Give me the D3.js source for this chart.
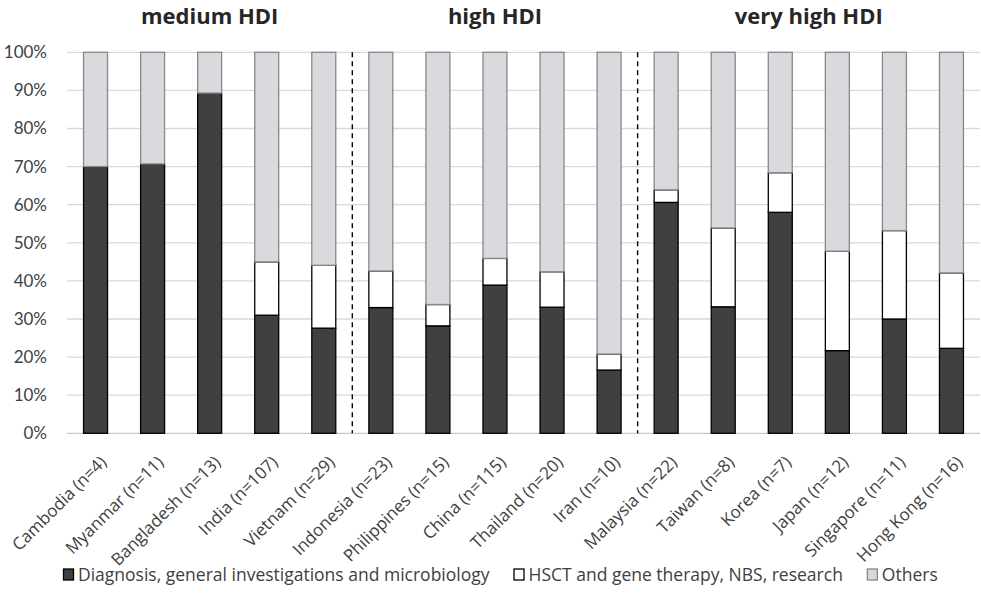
<!DOCTYPE html>
<html>
<head>
<meta charset="utf-8">
<script src="https://cdn.jsdelivr.net/npm/d3@7"></script>
<style>
  body { margin: 0; background: #fff; }
  svg { font-family: "Open Sans", Lato, sans-serif; }
</style>
</head>
<body>
<script>
// countries, left to right
const countries = ["Cambodia (n=4)", "Myanmar (n=11)", "Bangladesh (n=13)", "India (n=107)", "Vietnam (n=29)",
  "Indonesia (n=23)", "Philippines (n=15)", "China (n=115)", "Thailand (n=20)", "Iran (n=10)",
  "Malaysia (n=22)", "Taiwan (n=8)", "Korea (n=7)", "Japan (n=12)", "Singapore (n=11)", "Hong Kong (n=16)"];

// percent of each country's total
const diagnosis = [70.0, 70.7, 89.3, 31.0, 27.6, 33.0, 28.2, 38.9, 33.1, 16.6, 60.6, 33.2, 58.0, 21.7, 30.0, 22.3];
const hsct = [0, 0, 0, 14.0, 16.5, 9.6, 5.6, 7.0, 9.3, 4.2, 3.3, 20.7, 10.4, 26.1, 23.2, 19.8];
const others = diagnosis.map((d, i) => 100 - d - hsct[i]);

const seriesNames = ["Diagnosis, general investigations and microbiology", "HSCT and gene therapy, NBS, research", "Others"];

// HDI groups: first and last country of each
const groups = [
  { name: "medium HDI", from: "Cambodia (n=4)", to: "Vietnam (n=29)" },
  { name: "high HDI", from: "Indonesia (n=23)", to: "Iran (n=10)" },
  { name: "very high HDI", from: "Malaysia (n=22)", to: "Hong Kong (n=16)" }
];

const yTicks = [0, 10, 20, 30, 40, 50, 60, 70, 80, 90, 100];

const width = 981, height = 593;
const margin = { top: 52, right: 1, bottom: 160, left: 67 };

const svg = d3.select("body").append("svg")
  .attr("width", width)
  .attr("height", height);

const x = d3.scaleBand()
  .domain(countries)
  .range([margin.left, width - margin.right])
  .paddingInner(0.58)
  .paddingOuter(0.29);

const y = d3.scaleLinear()
  .domain([0, 100])
  .range([height - margin.bottom + 0.3, margin.top + 0.3]);

// gridlines
svg.append("g")
  .selectAll("line")
  .data(yTicks)
  .join("line")
  .attr("x1", margin.left)
  .attr("x2", width - margin.right)
  .attr("y1", d => y(d))
  .attr("y2", d => y(d))
  .attr("stroke", (d) => d === 0 ? "#c8c8c8" : "#d9d9d9")
  .attr("stroke-width", 1.3);

// y axis labels
const yAxis = svg.append("g")
  .attr("transform", `translate(${margin.left},0)`)
  .call(d3.axisLeft(y).tickValues(yTicks).tickFormat(d => d + "%").tickSize(0).tickPadding(20));
yAxis.select(".domain").remove();
yAxis.selectAll("text")
  .attr("font-family", "Lato, sans-serif")
  .attr("font-size", 17)
  .attr("fill", "#404040");

// stacked bars
const table = countries.map((c, i) => ({ country: c, diag: diagnosis[i], hsct: hsct[i], others: others[i] }));
const stack = d3.stack().keys(["diag", "hsct", "others"])(table);
const fills = ["#404040", "#ffffff", "#d9d9de"];
const strokes = ["#000000", "#000000", "#888888"];

stack.forEach((layer, li) => {
  svg.append("g")
    .selectAll("rect")
    .data(layer.filter(d => d[1] - d[0] > 0))
    .join("rect")
    .attr("x", d => x(d.data.country))
    .attr("y", d => y(d[1]))
    .attr("width", x.bandwidth())
    .attr("height", d => y(d[0]) - y(d[1]))
    .attr("fill", fills[li])
    .attr("stroke", strokes[li])
    .attr("stroke-width", 1.3);
});

// dashed group separators
const step = x.step();
groups.slice(1).forEach(g => {
  const xs = x(g.from) - (step - x.bandwidth()) / 2;
  svg.append("line")
    .attr("x1", xs).attr("x2", xs)
    .attr("y1", y(100)).attr("y2", y(0))
    .attr("stroke", "#000")
    .attr("stroke-width", 1.4)
    .attr("stroke-dasharray", "5,4");
});

// group titles
svg.append("g")
  .selectAll("text")
  .data(groups)
  .join("text")
  .attr("x", g => (x(g.from) + x(g.to) + x.bandwidth()) / 2)
  .attr("y", 24)
  .attr("text-anchor", "middle")
  .attr("font-size", 22)
  .attr("font-weight", "bold")
  .attr("fill", "#262626")
  .text(g => g.name);

// x labels rotated
svg.append("g")
  .selectAll("text")
  .data(countries)
  .join("text")
  .attr("transform", d => `translate(${x(d) + x.bandwidth() / 2 + 12},${y(0) + 30}) rotate(-45)`)
  .attr("text-anchor", "end")
  .attr("font-size", 17)
  .attr("fill", "#404040")
  .text(d => d);

// legend
const legend = svg.append("g").attr("transform", "translate(63,581)");
let lx = 0;
seriesNames.forEach((name, i) => {
  const item = legend.append("g").attr("transform", `translate(${lx},0)`);
  item.append("rect")
    .attr("x", 0.5).attr("y", -12)
    .attr("width", 10).attr("height", 11)
    .attr("fill", fills[i])
    .attr("stroke", strokes[i])
    .attr("stroke-width", 1.3);
  const t = item.append("text")
    .attr("x", 15)
    .attr("y", 0)
    .attr("font-size", 17.5)
    .attr("fill", "#404040")
    .text(name);
  lx += 15 + t.node().getComputedTextLength() + 24;
});
</script>
</body>
</html>
